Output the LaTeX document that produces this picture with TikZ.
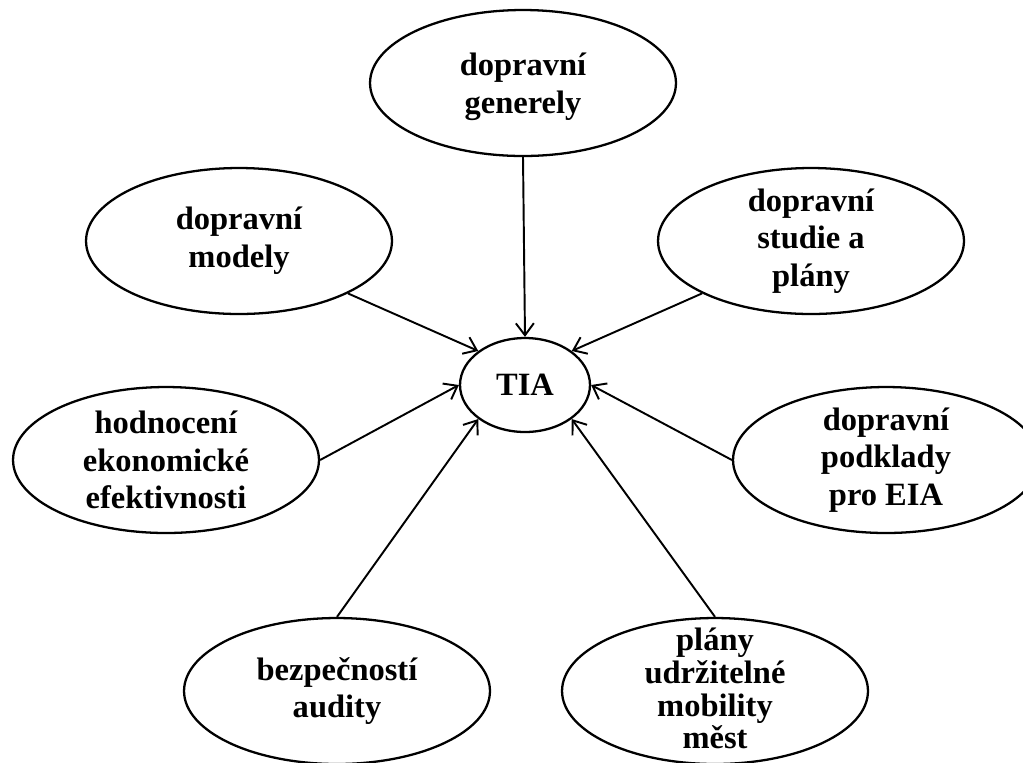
\documentclass[tikz,border=0pt]{standalone}
\usepackage{fontspec}
\setmainfont{Liberation Serif}
\usetikzlibrary{arrows.meta,shapes.geometric}

\begin{document}
\begin{tikzpicture}[x=0.02cm, y=-0.02cm, >={Straight Barb[length=2.4mm, width=3.6mm]},
		bubble/.style={draw, ellipse, line width=1.3pt, inner sep=0pt,
			minimum width=6.12cm, minimum height=2.92cm},
		hub/.style={draw, ellipse, line width=1.3pt, inner sep=0pt,
			minimum width=2.6cm, minimum height=1.88cm},
		txt/.style={align=center, font=\bfseries\fontsize{18.5}{21.5}\selectfont},
		tighttxt/.style={txt, font=\bfseries\fontsize{18.5}{18.7}\selectfont},
		feed/.style={->, line width=1.1pt}]
		
		% ---------- Frame (the page, ellipses at the edges are cut) ----------
		\useasboundingbox (0,0) rectangle (1023,762);
		\clip (0,0) rectangle (1023,762);
		
		% ---------- Centre ----------
		\node[hub] (tia) at (525,385) {};
		\node[txt] (tiatxt) at (tia) {TIA};
		
		% ---------- Surrounding topics ----------
		\node[bubble] (generely) at (523,83) {};
		\node[txt] (generelytxt) at ([yshift=-0.08cm]generely) {dopravní\\generely};
		
		\node[bubble] (modely) at (239,241) {};
		\node[txt] (modelytxt) at (modely) {dopravní\\modely};
		
		\node[bubble] (studie) at (811,241) {};
		\node[txt] (studietxt) at (studie) {dopravní\\studie a\\plány};
		
		\node[bubble] (hodnoceni) at (166,460) {};
		\node[txt] (hodnocenitxt) at (hodnoceni) {hodnocení\\ekonomické\\efektivnosti};
		
		\node[bubble] (podklady) at (886,460) {};
		\node[txt] (podkladytxt) at (podklady) {dopravní\\podklady\\pro EIA};
		
		\node[bubble] (audity) at (337,691) {};
		\node[txt] (auditytxt) at (audity) {bezpečností\\audity};
		
		\node[bubble] (mobilita) at (715,691) {};
		\node[tighttxt] (mobilitatxt) at ([yshift=0.05cm]mobilita) {plány\\udržitelné\\mobility\\měst};
		
		% ---------- Arrows into TIA ----------
		\draw[feed] (generely.south) -- (tia.north);
		\draw[feed] (modely.south east) -- (tia.north west);
		\draw[feed] (studie.south west) -- (tia.north east);
		\draw[feed] (hodnoceni.east) -- (tia.west);
		\draw[feed] (podklady.west) -- (tia.east);
		\draw[feed] (audity.north) -- (tia.south west);
		\draw[feed] (mobilita.north) -- (tia.south east);
		
	\end{tikzpicture}
\end{document}
